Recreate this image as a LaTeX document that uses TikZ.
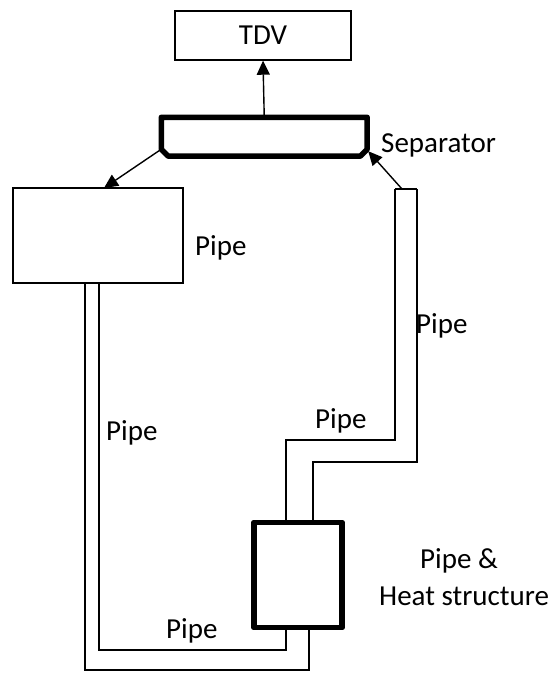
\documentclass[tikz,border=0pt]{standalone}
\usepackage{fontspec}
\setmainfont{Carlito}
\usetikzlibrary{arrows.meta}
\begin{document}
\begin{tikzpicture}[x=1pt,y=-1pt,
  thinbox/.style={draw, line width=1.4pt, rectangle, inner sep=0pt},
  thickline/.style={line width=5.5pt, line join=round},
  pipeline/.style={line width=1.4pt},
  lbl/.style={font=\fontsize{29}{34}\selectfont, inner sep=0pt},
  arr/.style={-{Triangle[length=14pt,width=13pt]}, line width=1.4pt}]
\useasboundingbox (0,0) rectangle (557,673);
% boxes
\node[thinbox, minimum width=176pt, minimum height=49pt, font=\fontsize{29}{34}\selectfont] (tdv) at (263,35.5) {TDV};
\node[inner sep=0pt, minimum width=205.5pt, minimum height=38.5pt] (sep) at (264.25,136.75) {};
\draw[thickline] (sep.north west) -- (sep.north east) -- ([yshift=7pt]sep.south east) -- ([xshift=-7pt]sep.south east)
  -- ([xshift=7pt]sep.south west) -- ([yshift=7pt]sep.south west) -- cycle;
\coordinate (sepL) at ([yshift=7pt]sep.south west);
\coordinate (sepR) at ([yshift=5pt,xshift=1pt]sep.south east);
\node[thinbox, minimum width=170pt, minimum height=95pt] (lbox) at (98,235.5) {};
\node[inner sep=0pt, minimum width=88pt, minimum height=105pt] (hs) at (298,575) {};
\draw[thickline] (hs.north west) rectangle (hs.south east);
% right pipe
\coordinate (rpL) at (395,189);
\coordinate (rpR) at (417,189);
\coordinate (rpTop) at (402,189);
\draw[pipeline] (rpL) -- (rpR);
\draw[pipeline] (rpL) -- (395,440) -- (286,440) -- (286,520);
\draw[pipeline] (rpR) -- (417,462) -- (313,462) -- (313,520);
% bottom pipe
\draw[pipeline] (286,630) -- (286,650) -- (99,650) -- (99,283.5);
\draw[pipeline] (309,630) -- (309,670) -- (85,670) -- (85,283.5);
% arrows
\draw[arr] (sep.north) -- (tdv.south);
\coordinate (lboxIn) at (104,188);
\draw[arr] (sepL) -- (lboxIn);
\draw[arr] (rpTop) -- (sepR);
% labels
\node[lbl, anchor=base west] (lsep) at (381,152) {Separator};
\node[lbl, anchor=base west] (lp1) at (195,255) {Pipe};
\node[lbl, anchor=base west] (lp2) at (416,333) {Pipe};
\node[lbl, anchor=base west] (lp3) at (315,428) {Pipe};
\node[lbl, anchor=base west] (lp4) at (106,440) {Pipe};
\node[lbl, anchor=base west] (lp5) at (166,638) {Pipe};
\node[lbl, anchor=base west] (lp6) at (420,568) {Pipe \&};
\node[lbl, anchor=base west] (lp7) at (379,605) {Heat structure};
\end{tikzpicture}
\end{document}
